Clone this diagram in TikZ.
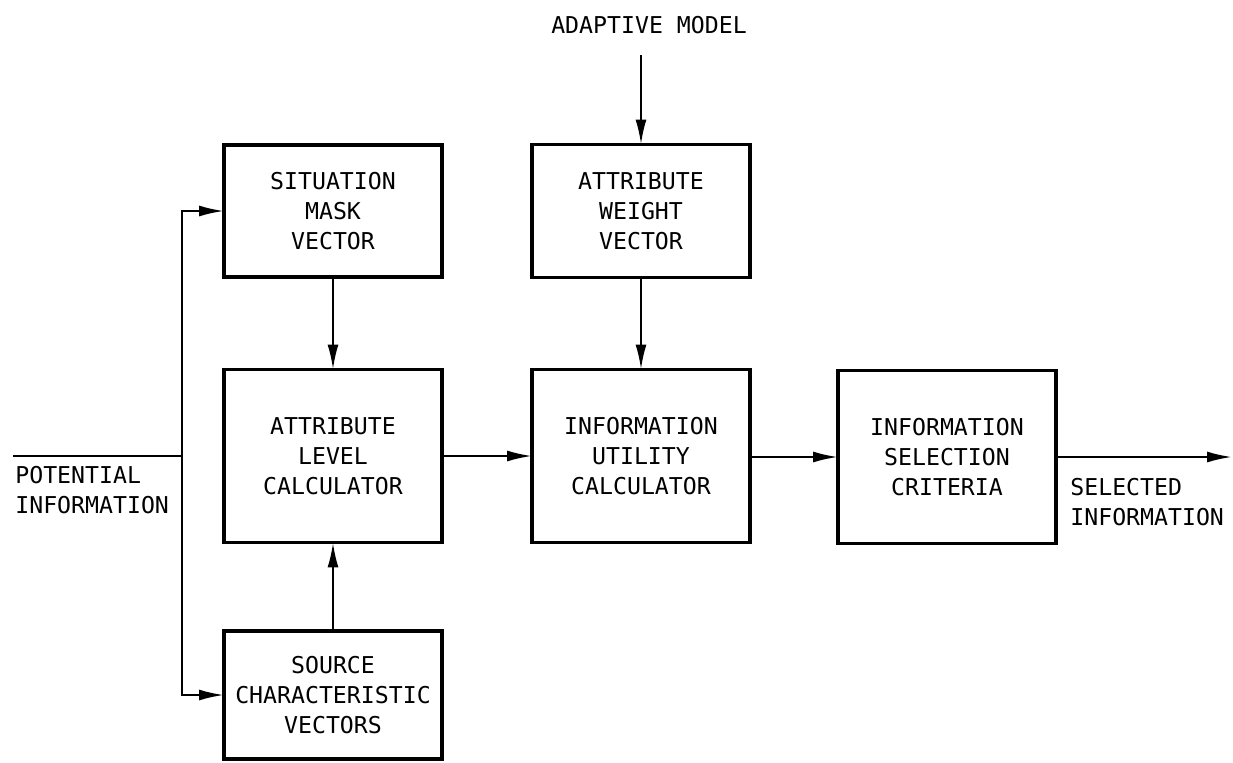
\documentclass[tikz,border=0pt]{standalone}
\usepackage{fontspec}
\setmainfont{DejaVu Sans Mono}
\usetikzlibrary{arrows.meta, positioning}

\begin{document}
\begin{tikzpicture}[x=0.02cm, y=-0.02cm,
                    block_node/.style={rectangle, draw=black, line width=1.8pt, outer sep=0pt, minimum width=4.36cm, align=center, inner sep=2pt, font=\fontsize{13.2}{17}\selectfont},
                    label_text/.style={align=left, inner sep=0pt, font=\fontsize{13.2}{17}\selectfont},
                    wire_line/.style={line width=1.3pt},
                    flow_arrow/.style={wire_line, -{Latex[length=0.5cm, width=0.22cm]}}
                ]
                    \useasboundingbox (0,0) rectangle (1233,762);

                    \node[block_node, minimum height=2.64cm] (smv) at (333,211) {SITUATION\\MASK\\VECTOR};
                    \node[block_node, minimum height=2.66cm] (awv) at (641,211) {ATTRIBUTE\\WEIGHT\\VECTOR};
                    \node[block_node, minimum height=3.46cm] (alc) at (333,456) {ATTRIBUTE\\LEVEL\\CALCULATOR};
                    \node[block_node, minimum height=3.46cm] (iuc) at (641,456) {INFORMATION\\UTILITY\\CALCULATOR};
                    \node[block_node, minimum height=3.46cm] (isc) at (947,457) {INFORMATION\\SELECTION\\CRITERIA};
                    \node[block_node, minimum height=2.56cm] (scv) at (333,695) {SOURCE\\CHARACTERISTIC\\VECTORS};

                    \node[label_text] (model) at (649,25) {ADAPTIVE MODEL};
                    \node[label_text, anchor=north west] (potential) at (15,466) {POTENTIAL\\INFORMATION};
                    \node[label_text, anchor=north west] (selected) at (1070,478) {SELECTED\\INFORMATION};

                    \coordinate (pin) at (13,456);
                    \coordinate (split) at (182,456);
                    \coordinate (modelin) at (641,55);
                    \coordinate (selout) at (1232,457);

                    \draw[wire_line] (pin) -- (split);
                    \draw[flow_arrow] (split) |- (smv);
                    \draw[flow_arrow] (split) |- (scv);
                    \draw[flow_arrow] (smv) -- (alc);
                    \draw[flow_arrow] (scv) -- (alc);
                    \draw[flow_arrow] (modelin) -- (awv);
                    \draw[flow_arrow] (awv) -- (iuc);
                    \draw[flow_arrow] (alc) -- (iuc);
                    \draw[flow_arrow] (iuc.east |- isc) -- (isc);
                    \draw[flow_arrow] (isc) -- (selout);
                \end{tikzpicture}
\end{document}
